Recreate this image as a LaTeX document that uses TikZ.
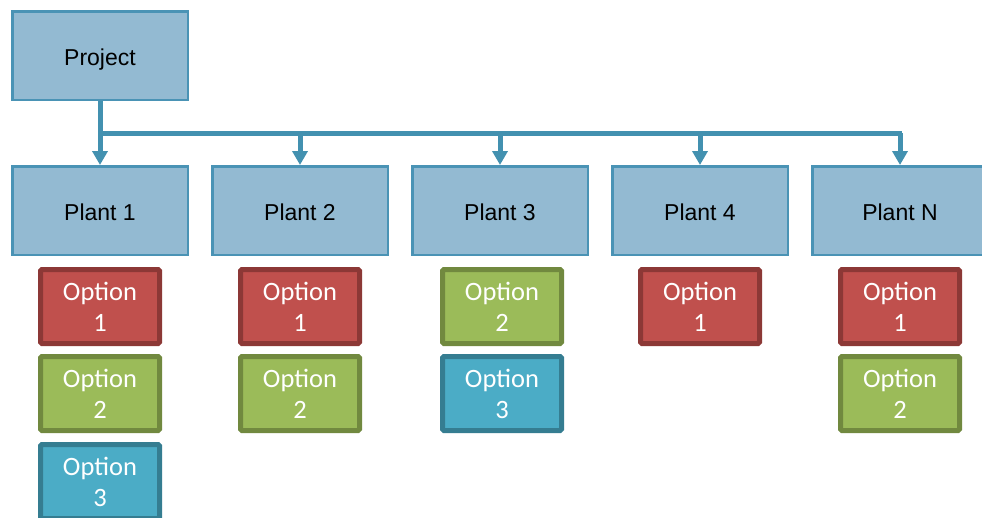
\documentclass[tikz,border=0pt]{standalone}
\usepackage{fontspec}
\setmainfont{Liberation Sans}
\newfontfamily\optfont{Carlito}
\usetikzlibrary{arrows.meta}
\definecolor{plantfill}{HTML}{93BAD2}
\definecolor{plantline}{HTML}{4A93B5}
\definecolor{connline}{HTML}{4391B0}
\definecolor{redfill}{HTML}{C0504D}
\definecolor{redline}{HTML}{8C3836}
\definecolor{greenfill}{HTML}{9BBB59}
\definecolor{greenline}{HTML}{71893F}
\definecolor{bluefill}{HTML}{4BACC6}
\definecolor{blueline}{HTML}{357D91}
\newcommand{\plabel}[1]{\raisebox{-9.7pt}[0pt][0pt]{#1}}
\tikzset{
  plantbox/.style={draw=plantline, fill=plantfill, line width=2.5pt, minimum width=175.5pt, minimum height=88.5pt, inner sep=0pt, font=\fontsize{23}{27}\selectfont},
  optbox/.style={line width=5pt, rounded corners=1.5pt, minimum width=119pt, minimum height=74pt, inner sep=0pt, align=center, text=white, font=\optfont\fontsize{26.5}{31}\selectfont},
  redopt/.style={optbox, draw=redline, fill=redfill},
  greenopt/.style={optbox, draw=greenline, fill=greenfill},
  blueopt/.style={optbox, draw=blueline, fill=bluefill},
  conn/.style={draw=connline, line width=5pt},
  connarrow/.style={conn, -{Triangle[width=15pt,length=14pt]}}
}
\begin{document}
\begin{tikzpicture}[x=1pt,y=-1pt]
\useasboundingbox (0,0) rectangle (982,517);
\clip (0,0) rectangle (982,517);
\fill[white] (0,0) rectangle (982,517);
\node[plantbox] (project) at (100,55.5) {\plabel{Project}};
\node[plantbox] (p1) at (100,210.5) {\plabel{Plant 1}};
\node[plantbox] (p2) at (300,210.5) {\plabel{Plant 2}};
\node[plantbox] (p3) at (500,210.5) {\plabel{Plant 3}};
\node[plantbox] (p4) at (700,210.5) {\plabel{Plant 4}};
\node[plantbox] (pN) at (900,210.5) {\plabel{Plant N}};
\coordinate (j1) at (100,133);
\coordinate (jN) at (902,133);
\draw[conn] (project.south) -- (j1) -- (jN);
\foreach \p in {p1,p2,p3,p4,pN}{
  \draw[connarrow] (\p.north |- j1) -- (\p.north);
}
% options
\node[redopt] (p1o1) at (100,306.5) {Option\\1};
\node[greenopt] (p1o2) at (100,393.5) {Option\\2};
\node[blueopt] (p1o3) at (100,481.5) {Option\\3};
\node[redopt] (p2o1) at (300,306.5) {Option\\1};
\node[greenopt] (p2o2) at (300,393.5) {Option\\2};
\node[greenopt] (p3o2) at (502,306.5) {Option\\2};
\node[blueopt] (p3o3) at (502,393.5) {Option\\3};
\node[redopt] (p4o1) at (700,306.5) {Option\\1};
\node[redopt] (pNo1) at (900,306.5) {Option\\1};
\node[greenopt] (pNo2) at (900,393.5) {Option\\2};
\end{tikzpicture}
\end{document}
